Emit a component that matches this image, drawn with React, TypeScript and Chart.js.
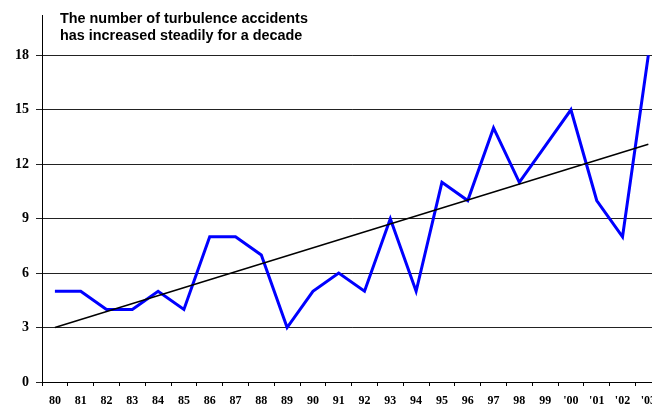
import React, { useEffect, useRef } from "react";
import { Chart, registerables } from "chart.js";

Chart.register(...registerables);

const categories = ["80", "81", "82", "83", "84", "85", "86", "87", "88", "89", "90", "91", "92", "93", "94", "95", "96", "97", "98", "99", "'00", "'01", "'02", "'03"];
const accidents = [5, 5, 4, 4, 5, 4, 8, 8, 7, 3, 5, 6, 5, 9, 5, 11, 10, 14, 11, 13, 15, 10, 8, 18];
const trendValues: (number | null)[] = [3, null, null, null, null, null, null, null, null, null, null, null, null, null, null, null, null, null, null, null, null, null, null, 13.1];
const titleLines = ["The number of turbulence accidents", "has increased steadily for a decade"];
const yTicks = [0, 3, 6, 9, 12, 15, 18];

const titlePlugin = {
  id: "titleText",
  afterDraw(chart: any) {
    const ctx = chart.ctx;
    ctx.save();
    ctx.fillStyle = "#000";
    ctx.font = "bold 14.4px 'Liberation Sans', Arial, sans-serif";
    ctx.textAlign = "left";
    ctx.textBaseline = "alphabetic";
    titleLines.forEach((t, i) => ctx.fillText(t, 60, 23 + i * 17));
    ctx.restore();
  },
};

export default function App() {
  const ref = useRef<HTMLCanvasElement>(null);
  useEffect(() => {
    if (!ref.current) return;
    const chart = new Chart(ref.current, {
      type: "line",
      data: {
        labels: categories,
        datasets: [
          {
            data: trendValues,
            borderColor: "#000",
            borderWidth: 1.5,
            pointRadius: 0,
            spanGaps: true,
            tension: 0,
          },
          {
            data: accidents,
            borderColor: "#0000ff",
            borderWidth: 3,
            pointRadius: 0,
            tension: 0,
          },
        ],
      },
      options: {
        animation: false,
        responsive: false,
        layout: { padding: { top: 15, right: 0, left: 0, bottom: 0 } },
        plugins: { legend: { display: false }, tooltip: { enabled: false } },
        scales: {
          x: {
            offset: true,
            grid: { offset: true, drawOnChartArea: false, drawTicks: true, tickLength: 4, color: "#000" },
            border: { display: true, color: "#000", width: 1 },
            ticks: {
              color: "#000",
              padding: 8,
              maxRotation: 0,
              autoSkip: false,
              font: { family: "'Liberation Serif', 'Times New Roman', serif", weight: "bold", size: 12 },
            },
            afterFit: (s: any) => { s.height = 24; },
          },
          y: {
            min: 0,
            max: 20.2,
            afterBuildTicks: (s: any) => { s.ticks = yTicks.map((v) => ({ value: v })); },
            grid: { color: "#222", lineWidth: 1, tickLength: 6 },
            border: { display: true, color: "#000", width: 1 },
            ticks: {
              color: "#000",
              padding: 7,
              font: { family: "'Liberation Serif', 'Times New Roman', serif", weight: "bold", size: 14 },
            },
            afterFit: (s: any) => { s.width = 42; },
          },
        },
      },
      plugins: [titlePlugin],
    });
    return () => chart.destroy();
  }, []);
  return (
    <div style={{ position: "fixed", left: 0, top: 0, width: 664, height: 406, background: "#fff" }}>
      <canvas ref={ref} width={664} height={406} style={{ display: "block" }} />
    </div>
  );
}
